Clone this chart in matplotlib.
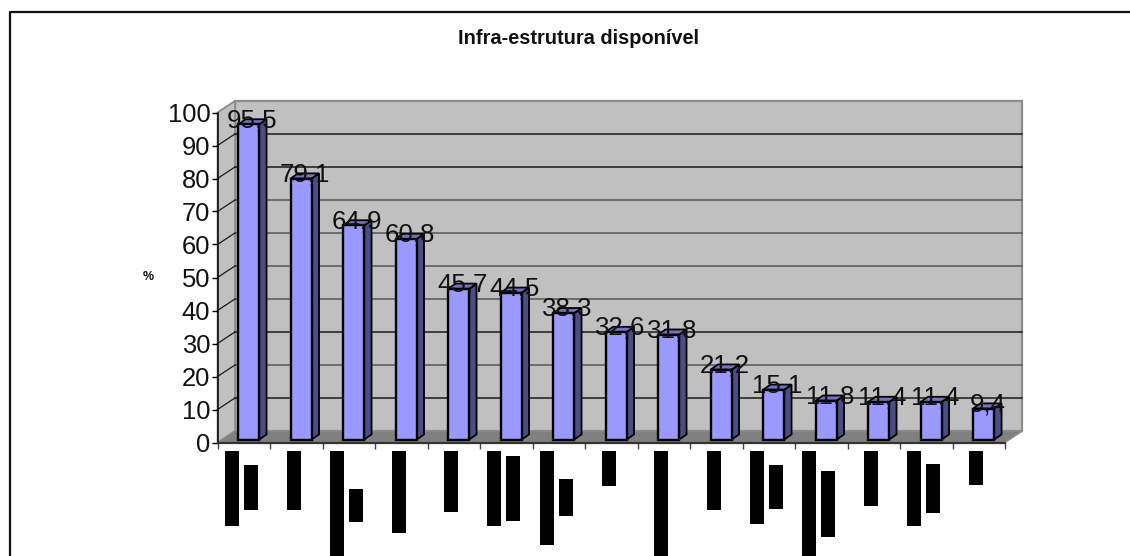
import numpy as np
import matplotlib
matplotlib.use('Agg')
import matplotlib.pyplot as plt
from matplotlib.patches import Polygon

plt.rcParams['font.family'] = ['Liberation Sans', 'DejaVu Sans']

# values
values = [95.5, 79.1, 64.9, 60.8, 45.7, 44.5, 38.3, 32.6, 31.8, 21.2, 15.1, 11.8, 11.4, 11.4, 9.4]
value_labels = ['95,5', '79,1', '64,9', '60,8', '45,7', '44,5', '38,3', '32,6', '31,8', '21,2',
                '15,1', '11,8', '11,4', '11,4', '9,4']
yticks = list(range(0, 101, 10))

# redacted category labels (lengths in pixels of the black blocks, None = no second line)
line1_len = [75, 59, 105, 82, 61, 75, 94, 35, 105, 59, 73, 105, 55, 75, 34]
line2_len = [45, None, 33, None, None, 65, 37, None, None, None, 44, 66, None, 49, None]
line2_gap = [14, None, 38, None, None, 5, 28, None, None, None, 14, 20, None, 13, None]

W, H = 1130, 556
fig = plt.figure(figsize=(W / 100, H / 100), dpi=100)

# axes covers the front plane of the 3D box: 15 categories, 0-100 %
left, right, top, bottom = 217.5, 1005, 112.5, 442.5
ax = fig.add_axes([left / W, 1 - bottom / H, (right - left) / W, (bottom - top) / H])
n = len(values)
ax.set_xlim(0, n)
ax.set_ylim(0, 100)
ax.patch.set_visible(False)
px_y = (bottom - top) / 100  # pixels per percent
px_x = (right - left) / n    # pixels per category

# depth of the box
dx, dy = 0.333, 3.5

grey = '#c0c0c0'
wall_edge = '#8c8c8c'
ax.add_patch(Polygon([(dx, dy), (n + dx, dy), (n + dx, 100 + dy), (dx, 100 + dy)],
                     facecolor=grey, edgecolor=wall_edge, lw=1.6, clip_on=False, zorder=1))
ax.add_patch(Polygon([(0, 0), (dx, dy), (dx, 100 + dy), (0, 100)],
                     facecolor=grey, edgecolor=wall_edge, lw=1.2, clip_on=False, zorder=1))
ax.add_patch(Polygon([(0, 0), (n, 0), (n + dx, dy), (dx, dy)],
                     facecolor='#808080', edgecolor=wall_edge, lw=1, clip_on=False, zorder=1.5))

# gridlines on the back wall and the left wall
for t in yticks[1:]:
    col = '#555555' if t in (20, 40, 50, 60, 70) else '#1a1a1a'
    if t < 100:
        ax.plot([dx, n + dx], [t + dy, t + dy], color=col, lw=1.1, clip_on=False, zorder=2)
    ax.plot([0, dx], [t, t + dy], color='#1a1a1a' if t < 100 else wall_edge, lw=0.9, clip_on=False, zorder=2)

# bars: front face through bar(), side and top as polygons
x = np.arange(n) + 0.594
width = 0.4
base = 0.9
d_bar_x, d_bar_y = 0.14, 1.55
ax.bar(x, values, width=width, bottom=base, color='#9999ff', edgecolor='black', lw=1.7,
       clip_on=False, zorder=4)
for xi, v in zip(x, values):
    r = xi + width / 2
    l = xi - width / 2
    t = base + v
    ax.add_patch(Polygon([(r, base), (r + d_bar_x, base + d_bar_y), (r + d_bar_x, t + d_bar_y), (r, t)],
                         facecolor='#4d4d85', edgecolor='black', lw=1.3, clip_on=False, zorder=3.5))
    ax.add_patch(Polygon([(l, t), (r, t), (r + d_bar_x, t + d_bar_y), (l + d_bar_x, t + d_bar_y)],
                         facecolor='#7373bf', edgecolor='black', lw=1.3, clip_on=False, zorder=3.5))

for xi, v, lab in zip(x, values, value_labels):
    ax.text(xi + d_bar_x / 2, base + v + 1.3, lab, ha='center', va='center', fontsize=18.6,
            color='#111111', zorder=6, clip_on=False)

# axes furniture
for s in ('top', 'right'):
    ax.spines[s].set_visible(False)
ax.spines['left'].set_linewidth(1.1)
ax.spines['left'].set_zorder(5)
ax.spines['bottom'].set_linewidth(1.6)
ax.spines['bottom'].set_color('#333333')
ax.spines['bottom'].set_zorder(5)
ax.set_yticks(yticks)
ax.set_yticklabels([str(t) for t in yticks], fontsize=18.4, color='#111111')
ax.set_xticks(np.arange(n + 1))
ax.set_xticklabels([])
ax.tick_params(axis='y', length=4, width=1, pad=1.2)
ax.tick_params(axis='x', length=4.5, width=1, color='#444444')

# black blocks where the category labels were
line1_off = [-0.225 if l2 else -0.043 for l2 in line2_len]
start = -8.2 / px_y
for i, ln in enumerate(line1_len):
    ax.bar(i + 0.5 + line1_off[i], -ln / px_y, width=14 / px_x, bottom=start, color='black',
           clip_on=False, zorder=3)
    if line2_len[i]:
        ax.bar(i + 0.5 + 0.135, -line2_len[i] / px_y, width=14 / px_x,
               bottom=start - line2_gap[i] / px_y, color='black', clip_on=False, zorder=3)

# frame, open on the right and at the bottom
fig.add_artist(plt.Line2D([9.5 / W, 9.5 / W, 1], [0, 1 - 11.5 / H, 1 - 11.5 / H], color='#111111', lw=1.6))

fig.text(578.5 / W, 1 - 39 / H, 'Infra-estrutura disponível', ha='center', va='center',
         fontsize=14.4, fontweight='bold', color='#111111')
fig.text(148 / W, 1 - 277 / H, '%', ha='center', va='center', fontsize=9, fontweight='bold', color='#111111')

fig.savefig('out.png', dpi=100)
